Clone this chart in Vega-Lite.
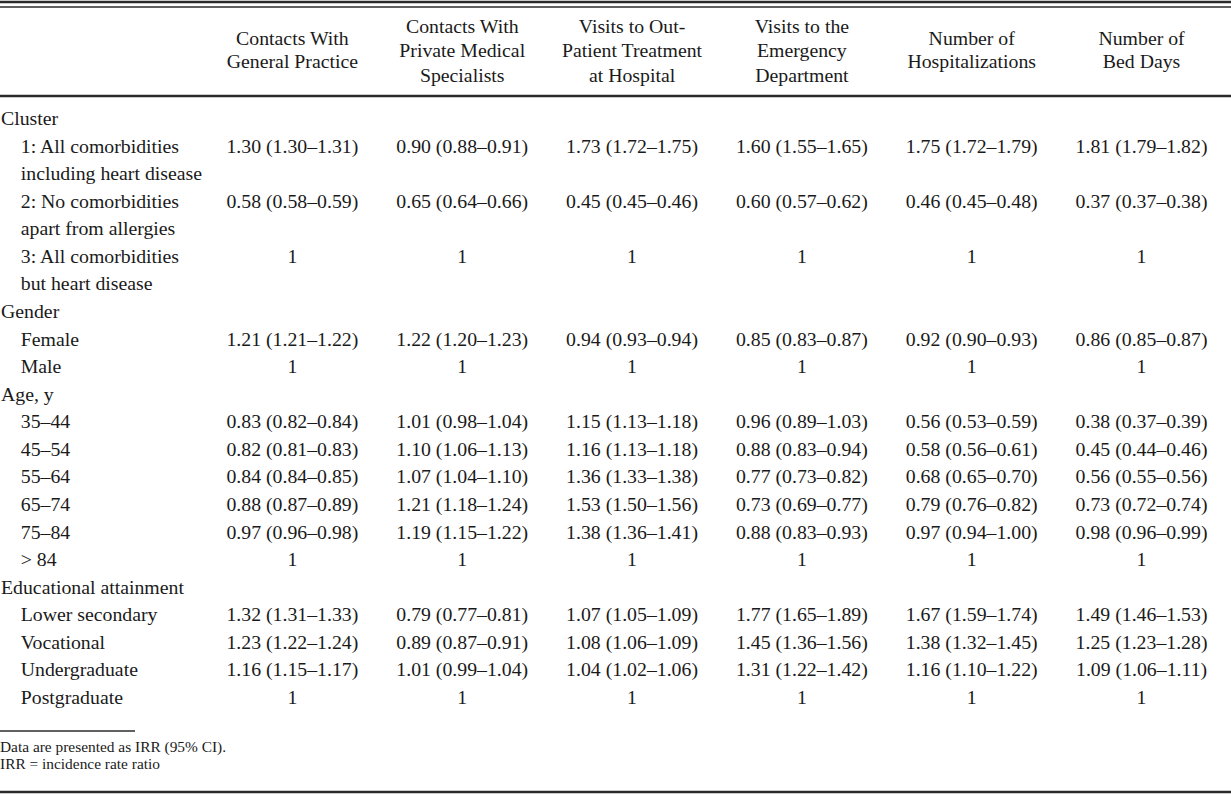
{
  "$schema": "https://vega.github.io/schema/vega-lite/v6.json",
  "width": 1231,
  "height": 795,
  "padding": 0,
  "autosize": {"type": "none"},
  "background": "white",
  "config": {
    "view": {"stroke": null},
    "text": {"font": "Liberation Serif", "fontSize": 19.8, "color": "#1a1a1a", "baseline": "alphabetic"},
    "rule": {"color": "#2b2b2b"}
  },
  "datasets": {
    "headers": [
      {"col": 1, "title": "Contacts With\nGeneral Practice", "lines": 2},
      {"col": 2, "title": "Contacts With\nPrivate Medical\nSpecialists", "lines": 3},
      {"col": 3, "title": "Visits to Out-\nPatient Treatment\nat Hospital", "lines": 3},
      {"col": 4, "title": "Visits to the\nEmergency\nDepartment", "lines": 3},
      {"col": 5, "title": "Number of\nHospitalizations", "lines": 2},
      {"col": 6, "title": "Number of\nBed Days", "lines": 2}
    ],
    "labels": [
      {"row": 0, "label": "Cluster", "level": "group"},
      {"row": 1, "label": "1: All comorbidities", "level": "item"},
      {"row": 2, "label": "including heart disease", "level": "item"},
      {"row": 3, "label": "2: No comorbidities", "level": "item"},
      {"row": 4, "label": "apart from allergies", "level": "item"},
      {"row": 5, "label": "3: All comorbidities", "level": "item"},
      {"row": 6, "label": "but heart disease", "level": "item"},
      {"row": 7, "label": "Gender", "level": "group"},
      {"row": 8, "label": "Female", "level": "item"},
      {"row": 9, "label": "Male", "level": "item"},
      {"row": 10, "label": "Age, y", "level": "group"},
      {"row": 11, "label": "35–44", "level": "item"},
      {"row": 12, "label": "45–54", "level": "item"},
      {"row": 13, "label": "55–64", "level": "item"},
      {"row": 14, "label": "65–74", "level": "item"},
      {"row": 15, "label": "75–84", "level": "item"},
      {"row": 16, "label": "> 84", "level": "item"},
      {"row": 17, "label": "Educational attainment", "level": "group"},
      {"row": 18, "label": "Lower secondary", "level": "item"},
      {"row": 19, "label": "Vocational", "level": "item"},
      {"row": 20, "label": "Undergraduate", "level": "item"},
      {"row": 21, "label": "Postgraduate", "level": "item"}
    ],
    "cells": [
      {"row": 1, "col": 1, "value": "1.30 (1.30–1.31)"},
      {"row": 1, "col": 2, "value": "0.90 (0.88–0.91)"},
      {"row": 1, "col": 3, "value": "1.73 (1.72–1.75)"},
      {"row": 1, "col": 4, "value": "1.60 (1.55–1.65)"},
      {"row": 1, "col": 5, "value": "1.75 (1.72–1.79)"},
      {"row": 1, "col": 6, "value": "1.81 (1.79–1.82)"},
      {"row": 3, "col": 1, "value": "0.58 (0.58–0.59)"},
      {"row": 3, "col": 2, "value": "0.65 (0.64–0.66)"},
      {"row": 3, "col": 3, "value": "0.45 (0.45–0.46)"},
      {"row": 3, "col": 4, "value": "0.60 (0.57–0.62)"},
      {"row": 3, "col": 5, "value": "0.46 (0.45–0.48)"},
      {"row": 3, "col": 6, "value": "0.37 (0.37–0.38)"},
      {"row": 5, "col": 1, "value": "1"},
      {"row": 5, "col": 2, "value": "1"},
      {"row": 5, "col": 3, "value": "1"},
      {"row": 5, "col": 4, "value": "1"},
      {"row": 5, "col": 5, "value": "1"},
      {"row": 5, "col": 6, "value": "1"},
      {"row": 8, "col": 1, "value": "1.21 (1.21–1.22)"},
      {"row": 8, "col": 2, "value": "1.22 (1.20–1.23)"},
      {"row": 8, "col": 3, "value": "0.94 (0.93–0.94)"},
      {"row": 8, "col": 4, "value": "0.85 (0.83–0.87)"},
      {"row": 8, "col": 5, "value": "0.92 (0.90–0.93)"},
      {"row": 8, "col": 6, "value": "0.86 (0.85–0.87)"},
      {"row": 9, "col": 1, "value": "1"},
      {"row": 9, "col": 2, "value": "1"},
      {"row": 9, "col": 3, "value": "1"},
      {"row": 9, "col": 4, "value": "1"},
      {"row": 9, "col": 5, "value": "1"},
      {"row": 9, "col": 6, "value": "1"},
      {"row": 11, "col": 1, "value": "0.83 (0.82–0.84)"},
      {"row": 11, "col": 2, "value": "1.01 (0.98–1.04)"},
      {"row": 11, "col": 3, "value": "1.15 (1.13–1.18)"},
      {"row": 11, "col": 4, "value": "0.96 (0.89–1.03)"},
      {"row": 11, "col": 5, "value": "0.56 (0.53–0.59)"},
      {"row": 11, "col": 6, "value": "0.38 (0.37–0.39)"},
      {"row": 12, "col": 1, "value": "0.82 (0.81–0.83)"},
      {"row": 12, "col": 2, "value": "1.10 (1.06–1.13)"},
      {"row": 12, "col": 3, "value": "1.16 (1.13–1.18)"},
      {"row": 12, "col": 4, "value": "0.88 (0.83–0.94)"},
      {"row": 12, "col": 5, "value": "0.58 (0.56–0.61)"},
      {"row": 12, "col": 6, "value": "0.45 (0.44–0.46)"},
      {"row": 13, "col": 1, "value": "0.84 (0.84–0.85)"},
      {"row": 13, "col": 2, "value": "1.07 (1.04–1.10)"},
      {"row": 13, "col": 3, "value": "1.36 (1.33–1.38)"},
      {"row": 13, "col": 4, "value": "0.77 (0.73–0.82)"},
      {"row": 13, "col": 5, "value": "0.68 (0.65–0.70)"},
      {"row": 13, "col": 6, "value": "0.56 (0.55–0.56)"},
      {"row": 14, "col": 1, "value": "0.88 (0.87–0.89)"},
      {"row": 14, "col": 2, "value": "1.21 (1.18–1.24)"},
      {"row": 14, "col": 3, "value": "1.53 (1.50–1.56)"},
      {"row": 14, "col": 4, "value": "0.73 (0.69–0.77)"},
      {"row": 14, "col": 5, "value": "0.79 (0.76–0.82)"},
      {"row": 14, "col": 6, "value": "0.73 (0.72–0.74)"},
      {"row": 15, "col": 1, "value": "0.97 (0.96–0.98)"},
      {"row": 15, "col": 2, "value": "1.19 (1.15–1.22)"},
      {"row": 15, "col": 3, "value": "1.38 (1.36–1.41)"},
      {"row": 15, "col": 4, "value": "0.88 (0.83–0.93)"},
      {"row": 15, "col": 5, "value": "0.97 (0.94–1.00)"},
      {"row": 15, "col": 6, "value": "0.98 (0.96–0.99)"},
      {"row": 16, "col": 1, "value": "1"},
      {"row": 16, "col": 2, "value": "1"},
      {"row": 16, "col": 3, "value": "1"},
      {"row": 16, "col": 4, "value": "1"},
      {"row": 16, "col": 5, "value": "1"},
      {"row": 16, "col": 6, "value": "1"},
      {"row": 18, "col": 1, "value": "1.32 (1.31–1.33)"},
      {"row": 18, "col": 2, "value": "0.79 (0.77–0.81)"},
      {"row": 18, "col": 3, "value": "1.07 (1.05–1.09)"},
      {"row": 18, "col": 4, "value": "1.77 (1.65–1.89)"},
      {"row": 18, "col": 5, "value": "1.67 (1.59–1.74)"},
      {"row": 18, "col": 6, "value": "1.49 (1.46–1.53)"},
      {"row": 19, "col": 1, "value": "1.23 (1.22–1.24)"},
      {"row": 19, "col": 2, "value": "0.89 (0.87–0.91)"},
      {"row": 19, "col": 3, "value": "1.08 (1.06–1.09)"},
      {"row": 19, "col": 4, "value": "1.45 (1.36–1.56)"},
      {"row": 19, "col": 5, "value": "1.38 (1.32–1.45)"},
      {"row": 19, "col": 6, "value": "1.25 (1.23–1.28)"},
      {"row": 20, "col": 1, "value": "1.16 (1.15–1.17)"},
      {"row": 20, "col": 2, "value": "1.01 (0.99–1.04)"},
      {"row": 20, "col": 3, "value": "1.04 (1.02–1.06)"},
      {"row": 20, "col": 4, "value": "1.31 (1.22–1.42)"},
      {"row": 20, "col": 5, "value": "1.16 (1.10–1.22)"},
      {"row": 20, "col": 6, "value": "1.09 (1.06–1.11)"},
      {"row": 21, "col": 1, "value": "1"},
      {"row": 21, "col": 2, "value": "1"},
      {"row": 21, "col": 3, "value": "1"},
      {"row": 21, "col": 4, "value": "1"},
      {"row": 21, "col": 5, "value": "1"},
      {"row": 21, "col": 6, "value": "1"}
    ],
    "notes": [
      {"note": "Data are presented as IRR (95% CI).\nIRR = incidence rate ratio"}
    ],
    "one": [{"k": 1}]
  },
  "layer": [
    {
      "data": {"name": "one"},
      "mark": {"type": "rule", "strokeWidth": 2.5},
      "encoding": {
        "y": {"datum": -4.4614, "type": "quantitative", "scale": {"domain": [-4.5339, 24.3018], "reverse": true, "nice": false, "zero": false}, "axis": null}
      }
    },
    {
      "data": {"name": "one"},
      "mark": {"type": "rule", "strokeWidth": 1.3},
      "encoding": {
        "y": {"datum": -4.28, "type": "quantitative", "scale": {"domain": [-4.5339, 24.3018], "reverse": true, "nice": false, "zero": false}, "axis": null}
      }
    },
    {
      "data": {"name": "one"},
      "mark": {"type": "rule", "strokeWidth": 2.5},
      "encoding": {
        "y": {"datum": -1.0519, "type": "quantitative", "scale": {"domain": [-4.5339, 24.3018], "reverse": true, "nice": false, "zero": false}, "axis": null}
      }
    },
    {
      "data": {"name": "one"},
      "mark": {"type": "rule", "strokeWidth": 2.5},
      "encoding": {
        "y": {"datum": 24.1893, "type": "quantitative", "scale": {"domain": [-4.5339, 24.3018], "reverse": true, "nice": false, "zero": false}, "axis": null}
      }
    },
    {
      "data": {"name": "one"},
      "mark": {"type": "rule", "strokeWidth": 1.3},
      "encoding": {
        "x": {"datum": -0.7217, "type": "quantitative", "scale": {"domain": [-0.7217, 6.5267], "nice": false, "zero": false}, "axis": null},
        "x2": {"datum": 0.0732},
        "y": {"datum": 21.98, "type": "quantitative", "scale": {"domain": [-4.5339, 24.3018], "reverse": true, "nice": false, "zero": false}, "axis": null}
      }
    },
    {
      "data": {"name": "headers"},
      "transform": [{"filter": "datum.lines == 2"}],
      "mark": {"type": "text", "align": "center", "lineBreak": "\n", "lineHeight": 23.5},
      "encoding": {
        "x": {"field": "col", "type": "quantitative", "scale": {"domain": [-0.7217, 6.5267], "nice": false, "zero": false}, "axis": null},
        "y": {"datum": -2.902, "type": "quantitative", "scale": {"domain": [-4.5339, 24.3018], "reverse": true, "nice": false, "zero": false}, "axis": null},
        "text": {"field": "title", "type": "nominal"}
      }
    },
    {
      "data": {"name": "headers"},
      "transform": [{"filter": "datum.lines == 3"}],
      "mark": {"type": "text", "align": "center", "lineBreak": "\n", "lineHeight": 24.5},
      "encoding": {
        "x": {"field": "col", "type": "quantitative", "scale": {"domain": [-0.7217, 6.5267], "nice": false, "zero": false}, "axis": null},
        "y": {"datum": -3.348, "type": "quantitative", "scale": {"domain": [-4.5339, 24.3018], "reverse": true, "nice": false, "zero": false}, "axis": null},
        "text": {"field": "title", "type": "nominal"}
      }
    },
    {
      "data": {"name": "labels"},
      "transform": [{"filter": "datum.level == 'group'"}],
      "mark": {"type": "text", "align": "left"},
      "encoding": {
        "x": {"datum": -0.7158, "type": "quantitative", "scale": {"domain": [-0.7217, 6.5267], "nice": false, "zero": false}, "axis": null},
        "y": {"field": "row", "type": "quantitative", "scale": {"domain": [-4.5339, 24.3018], "reverse": true, "nice": false, "zero": false}, "axis": null},
        "text": {"field": "label", "type": "nominal"}
      }
    },
    {
      "data": {"name": "labels"},
      "transform": [{"filter": "datum.level == 'item'"}],
      "mark": {"type": "text", "align": "left"},
      "encoding": {
        "x": {"datum": -0.5995, "type": "quantitative", "scale": {"domain": [-0.7217, 6.5267], "nice": false, "zero": false}, "axis": null},
        "y": {"field": "row", "type": "quantitative", "scale": {"domain": [-4.5339, 24.3018], "reverse": true, "nice": false, "zero": false}, "axis": null},
        "text": {"field": "label", "type": "nominal"}
      }
    },
    {
      "data": {"name": "cells"},
      "mark": {"type": "text", "align": "center"},
      "encoding": {
        "x": {"field": "col", "type": "quantitative", "scale": {"domain": [-0.7217, 6.5267], "nice": false, "zero": false}, "axis": null},
        "y": {"field": "row", "type": "quantitative", "scale": {"domain": [-4.5339, 24.3018], "reverse": true, "nice": false, "zero": false}, "axis": null},
        "text": {"field": "value", "type": "nominal"}
      }
    },
    {
      "data": {"name": "notes"},
      "mark": {"type": "text", "align": "left", "fontSize": 15.4, "lineBreak": "\n", "lineHeight": 17},
      "encoding": {
        "x": {"datum": -0.7217, "type": "quantitative", "scale": {"domain": [-0.7217, 6.5267], "nice": false, "zero": false}, "axis": null},
        "y": {"datum": 22.744, "type": "quantitative", "scale": {"domain": [-4.5339, 24.3018], "reverse": true, "nice": false, "zero": false}, "axis": null},
        "text": {"field": "note", "type": "nominal"}
      }
    }
  ]
}
